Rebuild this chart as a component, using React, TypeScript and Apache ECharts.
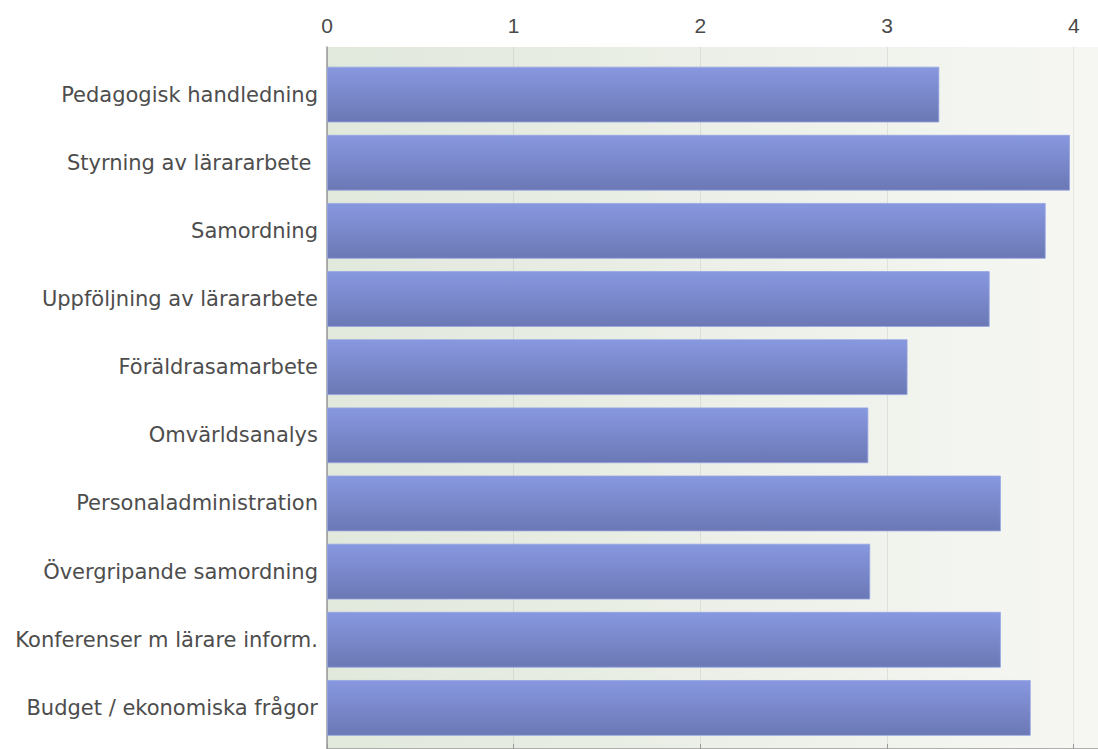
import React, { useEffect, useRef } from "react";
import * as echarts from "echarts";

const categories = [
  "Pedagogisk handledning",
  "Styrning av lärararbete ",
  "Samordning",
  "Uppföljning av lärararbete",
  "Föräldrasamarbete",
  "Omvärldsanalys",
  "Personaladministration",
  "Övergripande samordning",
  "Konferenser m lärare inform.",
  "Budget / ekonomiska frågor",
];
const values = [3.28, 3.98, 3.85, 3.55, 3.11, 2.9, 3.61, 2.91, 3.61, 3.77];
const axisMin = 0;
const axisMax = 4.13;
const axisInterval = 1;

export default function App() {
  const ref = useRef<HTMLDivElement>(null);
  useEffect(() => {
    if (!ref.current) return;
    const chart = echarts.init(ref.current, null, { renderer: "svg" });
    chart.setOption({
      animation: false,
      backgroundColor: "#ffffff",
      grid: [
        {
          left: 327,
          top: 47,
          right: 0,
          bottom: 0,
          show: true,
          borderWidth: 0,
          backgroundColor: new echarts.graphic.LinearGradient(0, 0, 1, 0, [
            { offset: 0, color: "#e1e8dc" },
            { offset: 1, color: "#f6f7f3" },
          ]),
        },
        { left: 327, top: 60.5, right: 0, height: 681.5 },
      ],
      xAxis: [
        {
          gridIndex: 0,
          type: "value",
          position: "top",
          min: axisMin,
          max: axisMax,
          interval: axisInterval,
          axisLine: { show: true, lineStyle: { color: "#999999", width: 1.5 } },
          axisTick: { show: true, length: 5, lineStyle: { color: "#999999" } },
          axisLabel: {
            show: true,
            showMaxLabel: false,
            margin: 11,
            color: "#4a4a4a",
            fontSize: 21,
            fontFamily: "Liberation Sans Narrow, Liberation Sans, Arial, sans-serif",
          },
          splitLine: { show: true, lineStyle: { color: "rgba(0,0,0,0.07)" } },
        },
        {
          gridIndex: 1,
          type: "value",
          min: axisMin,
          max: axisMax,
          interval: axisInterval,
          show: false,
        },
      ],
      yAxis: [
        {
          gridIndex: 0,
          type: "value",
          axisLine: { show: true, lineStyle: { color: "#999999", width: 1.5 } },
          axisTick: { show: false },
          axisLabel: { show: false },
          splitLine: { show: false },
        },
        {
          gridIndex: 1,
          type: "category",
          data: categories,
          inverse: true,
          axisLine: { show: false },
          axisTick: { show: false },
          axisLabel: {
            margin: 9,
            color: "#4d4d4d",
            fontSize: 21,
            fontFamily: "DejaVu Sans, sans-serif",
          },
        },
      ],
      series: [
        {
          type: "bar",
          xAxisIndex: 1,
          yAxisIndex: 1,
          data: values,
          barCategoryGap: "18%",
          itemStyle: {
            color: new echarts.graphic.LinearGradient(0, 0, 0, 1, [
              { offset: 0, color: "#8898e0" },
              { offset: 1, color: "#6b78b5" },
            ]),
            borderColor: "rgba(150,165,225,0.8)",
            borderWidth: 1,
          },
        },
      ],
    });
    return () => chart.dispose();
  }, []);
  return (
    <div
      ref={ref}
      style={{ position: "absolute", left: 0, top: 0, width: 1098, height: 749 }}
    />
  );
}
